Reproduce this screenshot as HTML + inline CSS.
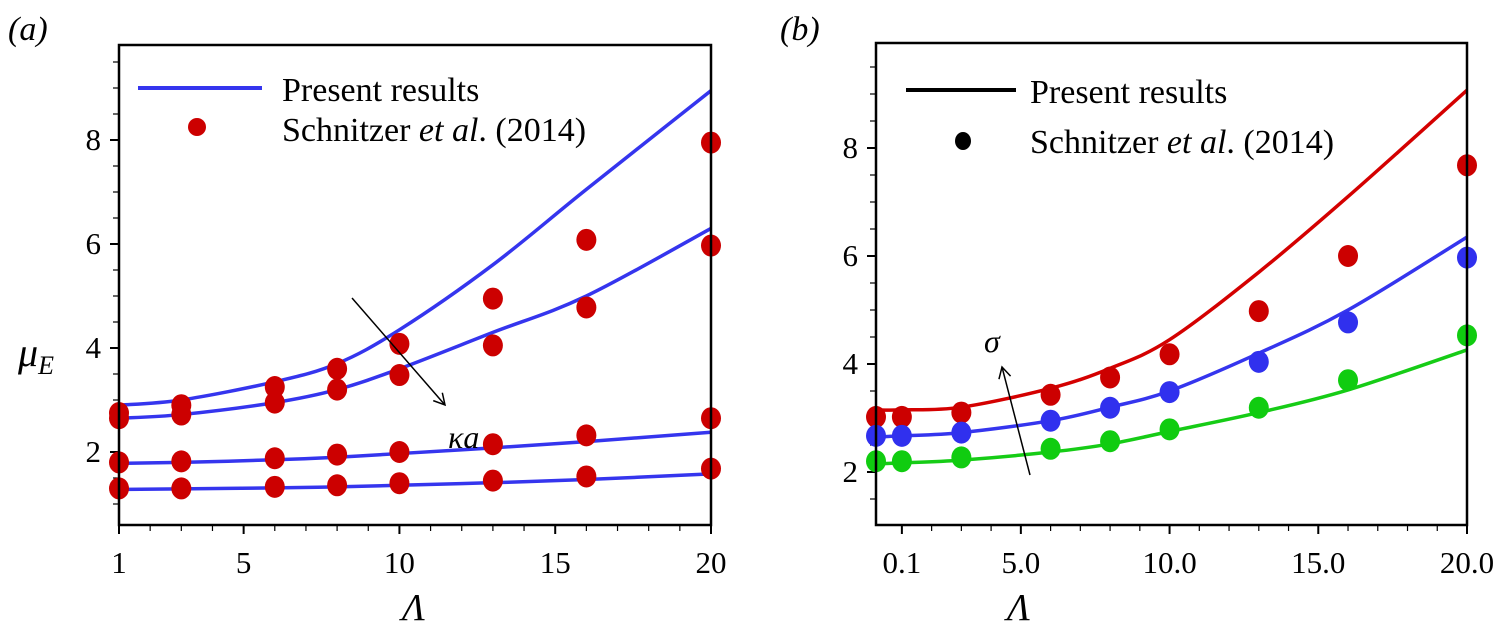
<!DOCTYPE html>
<html><head><meta charset="utf-8"><style>
html,body{margin:0;padding:0;background:#fff;}
svg{display:block;font-family:"Liberation Serif",serif;}
</style></head><body>
<svg id="fig" width="1497" height="631" viewBox="0 0 1497 631"></svg>
<script>
// ---- Panel (a) data ----
const aLambda = [1,3,6,8,10,13,16,20];
const aCurves = [
  [2.9,3.0,3.35,3.7,4.35,5.6,7.05,8.95],
  [2.65,2.72,2.95,3.2,3.6,4.3,5.0,6.3],
  [1.78,1.8,1.85,1.9,1.97,2.08,2.2,2.38],
  [1.28,1.29,1.31,1.33,1.36,1.41,1.47,1.58]
];
const aPoints = [
  [2.75,2.9,3.25,3.6,4.08,4.95,6.08,7.95],
  [2.65,2.72,2.95,3.2,3.48,4.05,4.78,5.97],
  [1.8,1.82,1.88,1.95,2.0,2.15,2.32,2.65],
  [1.3,1.3,1.33,1.36,1.4,1.45,1.53,1.68]
];
const aXTicks = [1,5,10,15,20];
const aXLabels = ["1","5","10","15","20"];
const aYTicks = [2,4,6,8];
const aYLabels = ["2","4","6","8"];
// ---- Panel (b) data ----
const bLambda = [0.13,1,3,6,8,10,13,16,20];
const bCurveRed = [3.15,3.15,3.2,3.55,3.92,4.45,5.7,7.1,9.07];
const bCurveBlue = [2.65,2.67,2.73,2.95,3.2,3.5,4.2,5.0,6.35];
const bCurveGreen = [2.15,2.17,2.22,2.37,2.52,2.75,3.1,3.52,4.26];
const bPointsRed = [3.02,3.02,3.1,3.43,3.75,4.18,4.98,6.0,7.68];
const bPointsBlue = [2.67,2.67,2.73,2.95,3.19,3.48,4.04,4.77,5.97];
const bPointsGreen = [2.2,2.2,2.27,2.43,2.57,2.79,3.19,3.7,4.53];
const bXTicks = [1,5,10,15,20];
const bXLabels = ["0.1","5.0","10.0","15.0","20.0"];
const bYTicks = [2,4,6,8];
const bYLabels = ["2","4","6","8"];

const NS="http://www.w3.org/2000/svg";
const svg=document.getElementById('fig');
function mk(tag,attrs,parent){const e=document.createElementNS(NS,tag);for(const k in attrs)e.setAttribute(k,attrs[k]);(parent||svg).appendChild(e);return e;}

function panel(cfg){
  const g=mk('g',{});
  
  
  const X=v=>cfg.x0+(v-cfg.xmin)/(cfg.xmax-cfg.xmin)*(cfg.x1-cfg.x0);
  const Y=v=>cfg.yb+(v-cfg.ymin)/(cfg.ymax-cfg.ymin)*(cfg.yt-cfg.yb);
  const tk=mk('g',{stroke:'#000','stroke-width':1.5},g);
  
  
  for(let v=Math.ceil(cfg.xmin);v<=cfg.xmax;v++){
    const maj=cfg.xTicks.includes(v);
    mk('line',{x1:X(v),x2:X(v),y1:cfg.yb,y2:cfg.yb+(maj?9:6),'stroke-width':maj?2:1.2},tk);
  }
  for(let v=Math.ceil(cfg.ymin*2)/2;v<=cfg.ymax;v+=0.5){
    const maj=cfg.yTicks.includes(v);
    mk('line',{x1:cfg.x0,x2:cfg.x0-(maj?9:6),y1:Y(v),y2:Y(v),'stroke-width':maj?2:1.2},tk);
  }
  cfg.xTicks.forEach((v,i)=>{const t=mk('text',{x:X(v),y:cfg.yb+48,'font-size':31,'text-anchor':'middle'},g);t.textContent=cfg.xLabels[i];
    });
  cfg.yTicks.forEach((v,i)=>{const t=mk('text',{x:cfg.x0-18,y:Y(v)+10,'font-size':31,'text-anchor':'end'},g);t.textContent=cfg.yLabels[i];
    });
  cfg.curves.forEach((c,ci)=>{
    const d=c.map((v,i)=>[X(cfg.lam[i]),Y(v)]);
    let p='M'+d[0][0]+','+d[0][1];
    for(let i=0;i<d.length-1;i++){
      const p0=d[Math.max(0,i-1)],p1=d[i],p2=d[i+1],p3=d[Math.min(d.length-1,i+2)];
      p+=' C'+(p1[0]+(p2[0]-p0[0])/6)+','+(p1[1]+(p2[1]-p0[1])/6)+' '+(p2[0]-(p3[0]-p1[0])/6)+','+(p2[1]-(p3[1]-p1[1])/6)+' '+p2[0]+','+p2[1];
    }
    const l=mk('path',{d:p,fill:'none',stroke:cfg.lineColors[ci],'stroke-width':3.5},g);
    
    
  });
  cfg.points.forEach((s,si)=>{
    s.forEach((v,i)=>{
      const c=mk('ellipse',{cx:X(cfg.lam[i]),cy:Y(v),rx:10,ry:11,fill:cfg.dotColors[si]},g);
      
      
    });
  });
  const box=mk('rect',{x:cfg.x0,y:cfg.yt,width:cfg.x1-cfg.x0,height:cfg.yb-cfg.yt,fill:'none',stroke:'#000','stroke-width':2.5},g);
  
  
}

panel({name:'panel-a',x0:119,x1:711,yt:45,yb:525,xmin:1,xmax:20,ymin:(556-525)/52,ymax:(556-45)/52,
  lam:aLambda,curves:aCurves,points:aPoints,lineColors:['#3535ee','#3535ee','#3535ee','#3535ee'],
  dotColors:['#cc0000','#cc0000','#cc0000','#cc0000'],xTicks:aXTicks,xLabels:aXLabels,yTicks:aYTicks,yLabels:aYLabels});
panel({name:'panel-b',x0:876,x1:1467,yt:43,yb:525,xmin:0.13,xmax:20,ymin:(580-525)/54,ymax:(580-43)/54,
  lam:bLambda,curves:[bCurveRed,bCurveBlue,bCurveGreen],points:[bPointsRed,bPointsBlue,bPointsGreen],
  lineColors:['#d40000','#3535ee','#16cc16'],dotColors:['#cc0000','#3030ee','#10cc10'],
  xTicks:bXTicks,xLabels:bXLabels,yTicks:bYTicks,yLabels:bYLabels});
</script>
<div style="position:absolute;left:0;top:0;width:1497px;height:631px;pointer-events:none">
<svg width="1497" height="631" style="font-family:'Liberation Serif',serif">
  <defs><marker id="ah" markerWidth="14" markerHeight="14" refX="12" refY="7" orient="auto" markerUnits="userSpaceOnUse"><path d="M1,1 L12,7 L1,13" fill="none" stroke="#000" stroke-width="1.5"/></marker></defs>
  <text x="8" y="40" font-size="34" font-style="italic">(a)</text>
  <text x="780" y="40" font-size="34" font-style="italic">(b)</text>
  <text x="18" y="366" font-size="40" font-style="italic">μ<tspan font-size="26" dy="8">E</tspan></text>
  <text x="402" y="620" font-size="38" font-style="italic">Λ</text>
  <text x="1007" y="620" font-size="38" font-style="italic">Λ</text>
  <g>
    <line x1="138" y1="88" x2="262" y2="88" stroke="#3535ee" stroke-width="4"/>
    <text x="282" y="101" font-size="34">Present results</text>
    <ellipse cx="197" cy="127" rx="9" ry="9" fill="#cc0000"/>
    <text x="282" y="141" font-size="34">Schnitzer <tspan font-style="italic">et al</tspan>. (2014)</text>
  </g>
  <g>
    <line x1="906" y1="90" x2="1016" y2="90" stroke="#000" stroke-width="4"/>
    <text x="1030" y="103" font-size="34">Present results</text>
    <ellipse cx="963" cy="141" rx="8" ry="9" fill="#000"/>
    <text x="1030" y="153" font-size="34">Schnitzer <tspan font-style="italic">et al</tspan>. (2014)</text>
  </g>
  <line x1="352" y1="298" x2="445" y2="405" stroke="#000" stroke-width="1.5" marker-end="url(#ah)"/>
  <text x="448" y="448" font-size="32" font-style="italic">κa</text>
  <line x1="1030" y1="475" x2="1002" y2="367" stroke="#000" stroke-width="1.5" marker-end="url(#ah)"/>
  <text x="984" y="352" font-size="32" font-style="italic">σ</text>
</svg></div>
</body></html>
